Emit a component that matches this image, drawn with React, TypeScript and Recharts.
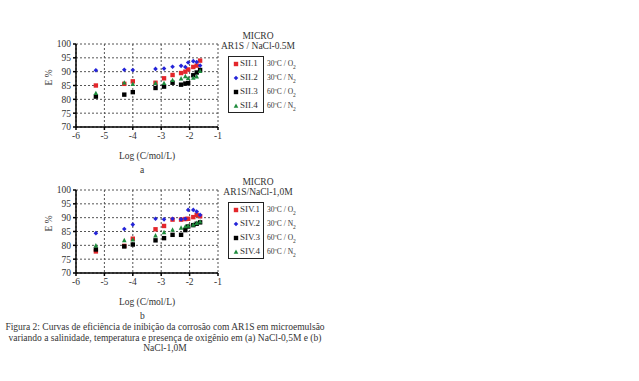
import { ScatterChart, Scatter, XAxis, YAxis, CartesianGrid } from "recharts"

const logConc = [-5.3, -4.3, -4.0, -3.2, -2.9, -2.6, -2.3, -2.15, -2.05, -1.87, -1.75, -1.63]

// (a) NaCl-0.5M
const sii1 = [85, 85.6, 86.5, 86, 87.6, 88.8, 89.5, 90, 90.8, 91.7, 92.2, 94]
const sii2 = [90.5, 90.7, 90.6, 91, 91.1, 91.8, 92.1, 91.7, 93.3, 93.8, 93.5, 92.2]
const sii3 = [81, 81.7, 82.6, 84.1, 84.6, 86, 85.3, 85.7, 85.9, 88.7, 89.7, 90.6]
const sii4 = [82.2, 86, 85.5, 85.8, 85.8, 86.9, 87.5, 88.3, 87.6, 87.7, 88.2, 90.2]

// (b) NaCl-1,0M
const siv1 = [77.8, 79.8, 82.4, 85.8, 87, 89.3, 89.3, 89.5, 89.6, 90.2, 91, 90.5]
const siv2 = [84.4, 85.9, 87.5, 89.6, 89.4, 89.6, 89.4, 89.6, 92.8, 92.8, 92.2, 91]
const siv3 = [78.5, 79.6, 80.3, 81.8, 82.6, 83.8, 83.8, 85.5, 86.8, 87.3, 87.8, 88.3]
const siv4 = [79.9, 81.8, 82, 83.5, 84.7, 85.6, 86.3, 86.8, 87, 87.4, 88, 88.5]

const xTicks = [-6, -5, -4, -3, -2, -1]
const yTicks = [70, 75, 80, 85, 90, 95, 100]
const conditions = ["30ºC / O", "30ºC / N", "60ºC / O", "60ºC / N"]

const FONT = '"Liberation Serif", "Times New Roman", serif'
const RED = "#e3262b"
const BLUE = "#2424d8"
const BLACK = "#000000"
const GREEN = "#1e8b3c"

const Square = (props: any) => {
  const { cx, cy, fill } = props
  if (cx == null || cy == null) return null
  return <rect x={cx - 2.2} y={cy - 2.2} width={4.4} height={4.4} fill={fill} />
}

const Diamond = (props: any) => {
  const { cx, cy, fill } = props
  if (cx == null || cy == null) return null
  return <polygon points={`${cx},${cy - 2.3} ${cx + 2.3},${cy} ${cx},${cy + 2.3} ${cx - 2.3},${cy}`} fill={fill} />
}

const Triangle = (props: any) => {
  const { cx, cy, fill } = props
  if (cx == null || cy == null) return null
  return <polygon points={`${cx},${cy - 2.6} ${cx + 2.3},${cy + 1.8} ${cx - 2.3},${cy + 1.8}`} fill={fill} />
}

const toPoints = (vals: number[]) => logConc.map((x, i) => ({ x, y: vals[i] }))

function Panel({ top, series, names, title, letter }: any) {
  const styles = [
    { color: RED, shape: Square },
    { color: BLUE, shape: Diamond },
    { color: BLACK, shape: Square },
    { color: GREEN, shape: Triangle },
  ]
  return (
    <>
      <div style={{ position: "absolute", left: 0, top }}>
        <ScatterChart width={320} height={180} margin={{ top: 44, right: 102, bottom: 33, left: 46 }}>
          <CartesianGrid stroke="#555" strokeDasharray="2 2" />
          <XAxis
            type="number"
            dataKey="x"
            domain={[-6, -1]}
            ticks={xTicks}
            interval={0}
            height={20}
            stroke="#000"
            strokeWidth={1.5}
            tickSize={3}
            tick={{ fill: "#333", fontSize: 9.5, fontFamily: FONT }}
            label={{ value: "Log (C/mol/L)", position: "bottom", offset: 5, fill: "#333", fontSize: 9.5, fontFamily: FONT }}
          />
          <YAxis
            type="number"
            dataKey="y"
            domain={[70, 100]}
            ticks={yTicks}
            interval={0}
            width={30}
            stroke="#000"
            strokeWidth={1.5}
            tickSize={3}
            tick={{ fill: "#333", fontSize: 9.5, fontFamily: FONT }}
            label={{ value: "E %", angle: -90, position: "insideLeft", offset: 3, fill: "#333", fontSize: 9.5, fontFamily: FONT }}
          />
          {series.map((vals: number[], i: number) => (
            <Scatter
              key={names[i]}
              data={toPoints(vals)}
              fill={styles[i].color}
              shape={styles[i].shape}
              isAnimationActive={false}
            />
          ))}
        </ScatterChart>
      </div>
      <div style={{ position: "absolute", left: 140, top: top + 165, fontSize: 9.5, fontFamily: FONT, color: "#333" }}>{letter}</div>
      <div style={{ position: "absolute", left: 208, top: top + 31, width: 100, textAlign: "center", fontSize: 9.5, lineHeight: "10px", fontFamily: FONT, color: "#333" }}>
        MICRO
        <br />
        {title}
      </div>
      <div style={{ position: "absolute", left: 228, top: top + 56, width: 36, height: 57, border: "1.2px solid #222", boxSizing: "border-box" }} />
      {names.map((n: string, i: number) => {
        const Shape = styles[i].shape
        const y = top + 64 + i * 14
        return (
          <div key={n}>
            <svg style={{ position: "absolute", left: 232, top: y - 4 }} width={8} height={8}>
              <Shape cx={4} cy={4} fill={styles[i].color} />
            </svg>
            <div style={{ position: "absolute", left: 240, top: y - 6, fontSize: 9, lineHeight: "11px", fontFamily: FONT, color: "#333", whiteSpace: "nowrap" }}>{n}</div>
            <div style={{ position: "absolute", left: 267, top: y - 6, fontSize: 7.5, lineHeight: "11px", fontFamily: FONT, color: "#333", whiteSpace: "nowrap" }}>
              {conditions[i]}
              <sub style={{ fontSize: 5.5 }}>2</sub>
            </div>
          </div>
        )
      })}
    </>
  )
}

export default function App() {
  return (
    <div style={{ position: "absolute", left: 0, top: 0, width: 639, height: 381, background: "#fff", overflow: "hidden" }}>
      <Panel top={0} series={[sii1, sii2, sii3, sii4]} names={["SII.1", "SII.2", "SII.3", "SII.4"]} title="AR1S / NaCl-0.5M" letter="a" />
      <Panel top={146} series={[siv1, siv2, siv3, siv4]} names={["SIV.1", "SIV.2", "SIV.3", "SIV.4"]} title="AR1S/NaCl-1,0M" letter="b" />
      <div style={{ position: "absolute", left: 0, top: 322, width: 330, textAlign: "center", fontSize: 9.5, lineHeight: "10.5px", fontFamily: FONT, color: "#333" }}>
        Figura 2: Curvas de eficiência de inibição da corrosão com AR1S em microemulsão
        <br />
        variando a salinidade, temperatura e presença de oxigênio em (a) NaCl-0,5M e (b)
        <br />
        NaCl-1,0M
      </div>
    </div>
  )
}
